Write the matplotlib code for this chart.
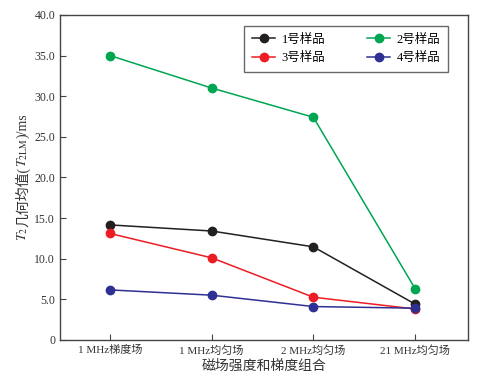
import matplotlib
matplotlib.use("Agg")
import matplotlib.pyplot as plt
import numpy as np

plt.rcParams['font.family'] = ['Liberation Serif', 'Noto Sans CJK SC']
plt.rcParams['mathtext.fontset'] = 'stix'

categories = ["1 MHz梯度场", "1 MHz均匀场", "2 MHz均匀场", "21 MHz均匀场"]
series_names = ["1号样品", "2号样品", "3号样品", "4号样品"]
s1 = [14.15, 13.4, 11.45, 4.4]
s2 = [35.0, 31.0, 27.4, 6.3]
s3 = [13.1, 10.1, 5.25, 3.8]
s4 = [6.15, 5.5, 4.1, 3.9]
colors = ["#231f20", "#00a651", "#ed1c24", "#2e3192"]
yticks = [0, 5, 10, 15, 20, 25, 30, 35, 40]
ytick_labels = ["0", "5.0", "10.0", "15.0", "20.0", "25.0", "30.0", "35.0", "40.0"]
ylabel_parts = [r"$T_2$", "几何均值(", r"$T_{\rm 2LM}$", ")/ms"]

fig = plt.figure(figsize=(4.84, 3.92), dpi=100)
ax = fig.add_axes([0.124, 0.133, 0.843, 0.829])
x = np.arange(len(categories))
lines = []
for vals, name, c in zip([s1, s2, s3, s4], series_names, colors):
    ln, = ax.plot(x, vals, color=c, lw=1.1, marker='o', ms=6, label=name)
    lines.append(ln)

ax.set_xlim(-0.49, 3.52)
ax.set_ylim(0, 40)
ax.set_xticks(x)
ax.set_xticklabels(categories, fontsize=8)
ax.set_yticks(yticks)
ax.set_yticklabels(ytick_labels, fontsize=8.5)
ax.tick_params(direction='in', length=4, width=0.8, colors='#444444', labelcolor='#333333')
for sp in ax.spines.values():
    sp.set_color('#444444')
    sp.set_linewidth(1.0)

ax.set_xlabel("磁场强度和梯度组合", fontsize=10, color='#333333', labelpad=3)

# y label built from pieces (mixed mathtext and CJK)
renderer = fig.canvas.get_renderer()
fs = 10
xpos = 23 / 484
texts = []
lengths = []
for p in ylabel_parts:
    t = fig.text(xpos, 0, p, rotation=90, fontsize=fs, color='#333333',
                 ha='center', va='bottom', rotation_mode='anchor')
    bb = t.get_window_extent(renderer)
    texts.append(t)
    lengths.append(bb.height)
total = sum(lengths)
center = 1 - 177 / 392
y0 = center * 392 - total / 2
cur = y0
for t, L in zip(texts, lengths):
    t.set_position((xpos, cur / 392))
    t.set_ha('left')
    t.set_va('center')
    cur += L

order = [0, 2, 1, 3]
leg = ax.legend([lines[i] for i in order], [series_names[i] for i in order],
                ncol=2, loc='upper right', bbox_to_anchor=(0.966, 0.985), fontsize=9,
                frameon=True, fancybox=False, edgecolor='#444444', handlelength=1.9,
                columnspacing=3.3, borderpad=0.6, labelspacing=0.55, handletextpad=0.5)
leg.get_frame().set_linewidth(1.0)

fig.savefig("out.png", dpi=100)
